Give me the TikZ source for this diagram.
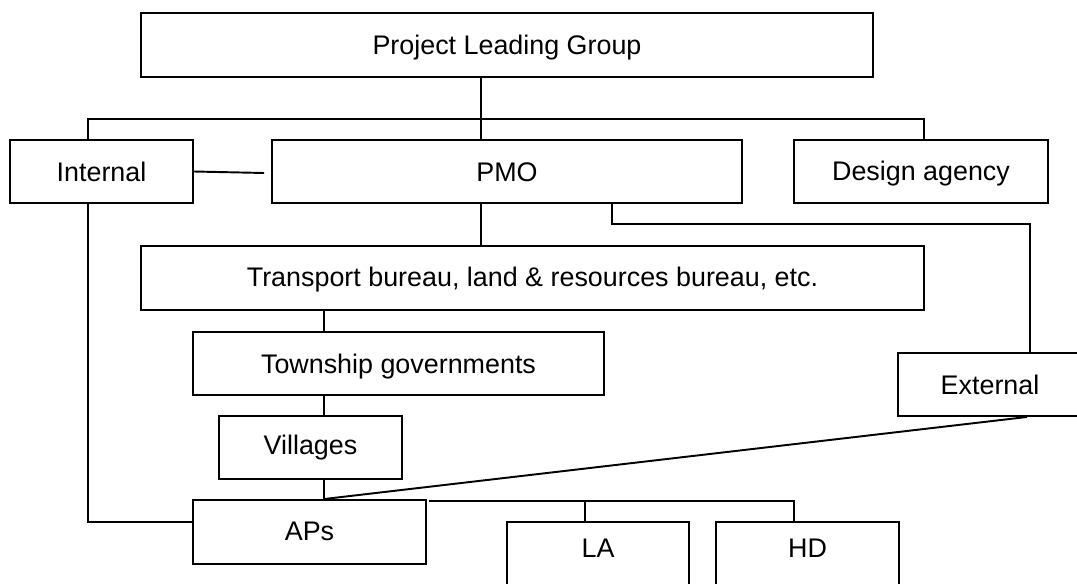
\documentclass[tikz,border=0pt]{standalone}
\usepackage{fontspec}
\setmainfont{Liberation Sans}
\usetikzlibrary{calc}
\begin{document}
\begin{tikzpicture}[x=0.02cm,y=-0.02cm,
  line width=1.1pt,
  orgbox/.style={draw, rectangle, inner sep=0pt, text height=0.39cm, text depth=0pt,
    font=\fontsize{15.3pt}{18pt}\selectfont},
  raised/.style={text depth=#1}]
\useasboundingbox (0,0) rectangle (1077,584);
\clip (0,0) rectangle (1077,584);

% boxes
\node[orgbox, minimum width=14.64cm, minimum height=1.28cm] (plg) at (507,45) {Project Leading Group};
\node[orgbox, minimum width=3.66cm, minimum height=1.26cm] (internal) at (101.5,171.5) {Internal};
\node[orgbox, minimum width=9.4cm, minimum height=1.26cm] (pmo) at (507,171.5) {PMO};
\node[orgbox, raised=0.04cm, minimum width=5.08cm, minimum height=1.26cm] (design) at (921,171.5) {Design agency};
\node[orgbox, raised=0.04cm, minimum width=15.66cm, minimum height=1.28cm] (transport) at (532.5,278) {Transport bureau, land \& resources bureau, etc.};
\node[orgbox, minimum width=8.22cm, minimum height=1.26cm] (township) at (398.5,363.5) {Township governments};
\node[orgbox, minimum width=3.68cm, minimum height=1.26cm] (external) at (990,384.5) {External};
\node[orgbox, raised=0.1cm, minimum width=3.66cm, minimum height=1.26cm] (villages) at (310.5,447.5) {Villages};
\node[orgbox, raised=0.06cm, minimum width=4.66cm, minimum height=1.28cm] (aps) at (309.5,532) {APs};
\node[orgbox, raised=0.26cm, minimum width=3.64cm, minimum height=1.28cm] (la) at (598,554) {LA};
\node[orgbox, raised=0.26cm, minimum width=3.66cm, minimum height=1.28cm] (hd) at (807.5,554) {HD};

% junction points
\coordinate (busL) at (88,119);
\coordinate (busM) at (481,119);
\coordinate (busR) at (924,119);
\coordinate (ext1) at (612,224);
\coordinate (ext2) at (1030,224);
\coordinate (spine) at (324,0);
\coordinate (laj) at (585,501);
\coordinate (hdj) at (794,501);

% top level bus
\draw (plg.south -| busM) -- (busM);
\draw (internal.north -| busL) -- (busL) -- (busR) -- (design.north -| busR);
\draw (busM) -- (pmo.north -| busM);

% internal -- PMO
\draw (internal.east) -- ($(pmo.west)+(-7,1.5)$);

% PMO chain
\draw (pmo.south -| busM) -- (transport.north -| busM);
\draw (pmo.south -| ext1) -- (ext1) -- (ext2) -- (external.north -| ext2);
\draw (transport.south -| spine) -- (township.north -| spine);
\draw (township.south -| spine) -- (villages.north -| spine);
\draw (villages.south -| spine) -- (aps.north -| spine);

% external -- APs
\draw ($(external.south -| ext2)+(-3,0)$) -- (aps.north -| spine);

% internal -- APs
\draw (internal.south -| busL) |- ($(aps.west)+(0,-10)$);

% APs -- LA, HD
\draw ($(hdj -| aps.east)+(2,0)$) -- (hdj) -- (hd.north -| hdj);
\draw (laj) -- (la.north -| laj);
\end{tikzpicture}
\end{document}
